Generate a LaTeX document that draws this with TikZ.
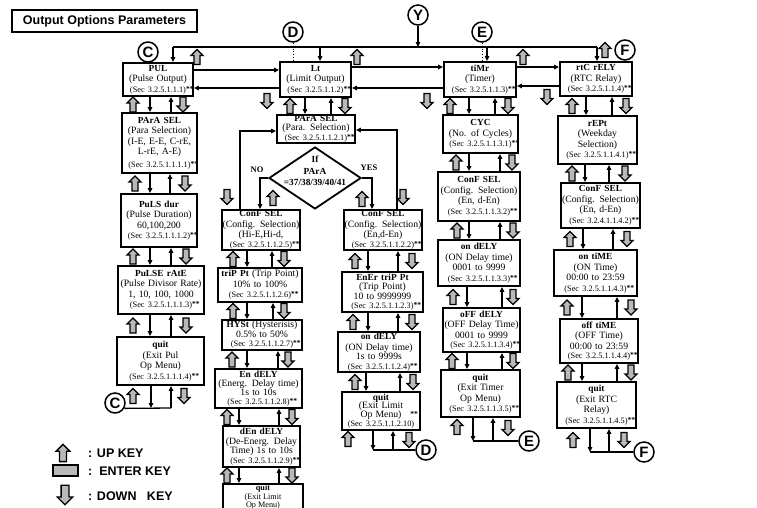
\documentclass[tikz,border=0pt]{standalone}
\usepackage{fontspec}
\setmainfont{Liberation Serif}
\setsansfont{Liberation Sans}
\usetikzlibrary{arrows.meta,shapes.geometric}
\newcommand\ttl[1]{{\bfseries\fontsize{9.3}{10}\selectfont #1}}
\newcommand\sect[1]{{\fontsize{8.3}{9}\selectfont (Sec #1)}}
\newcommand\stt{\rlap{\raisebox{1pt}{\fontsize{7.5}{7.5}\selectfont\bfseries **}}}
\newcommand\bx[6]{%
  \pgfmathsetmacro\bxcx{(#2+#4)/2}%
  \pgfmathsetmacro\bxcy{(#3+#5)/2}%
  \pgfmathsetmacro\bxw{#4-#2}%
  \pgfmathsetmacro\bxh{#5-#3}%
  \node[box, minimum width=\bxw pt, minimum height=\bxh pt] (#1) at (\bxcx,\bxcy) {};
  \node[boxtxt, text width=\bxw pt] (#1-t) at (#1.center) {#6};}
\newcommand\gp[6]{%
  \path (#1.south) -- (#2.north) coordinate[pos=0.5] (gpm);
  \pic at (gpm -| #3,0) {upkey};
  \draw[conn] (#1.south -| #4,0) -- (#2.north -| #4,0);
  \draw[conn] (#2.north -| #5,0) -- (#1.south -| #5,0);
  \pic at (gpm -| #6,0) {downkey};}
\begin{document}
\begin{tikzpicture}[x=1pt,y=-1pt,
  box/.style={draw, line width=1.8pt, fill=white, inner sep=0pt, rectangle},
  boxtxt/.style={inner sep=0pt, align=center, font=\fontsize{9.7}{10.5}\selectfont},
  conn/.style={line width=1.3pt, -{Triangle[length=5pt,width=4.5pt]}},
  plain/.style={line width=1.3pt},
  circ/.style={draw, circle, line width=1.5pt, minimum size=20pt, inner sep=0pt, font=\sffamily\bfseries\fontsize{15}{15}\selectfont},
  keyarr/.style={draw, line width=1.3pt, fill=gray!55, line join=miter},
  lbl/.style={font=\bfseries\fontsize{8.5}{9}\selectfont, inner sep=0pt},
  leg/.style={font=\sffamily\bfseries\fontsize{12.5}{13}\selectfont, anchor=west, inner sep=0pt},
  upkey/.pic={\draw[keyarr] (0,-7.5) -- (6,-1.5) -- (3,-1.5) -- (3,7.5) -- (-3,7.5) -- (-3,-1.5) -- (-6,-1.5) -- cycle;},
  downkey/.pic={\draw[keyarr] (0,7.5) -- (6,1.5) -- (3,1.5) -- (3,-7.5) -- (-3,-7.5) -- (-3,1.5) -- (-6,1.5) -- cycle;}]
\useasboundingbox (0,0) rectangle (757,507);
\clip (0,0) rectangle (757,507);
\fill[white] (0,0) rectangle (757,507);

% title
\node[draw, line width=1.2pt, minimum width=185pt, minimum height=22pt, inner sep=0pt,
  font=\sffamily\bfseries\fontsize{12.5}{13}\selectfont] (title) at (104.5,21) {Output Options Parameters};

% circles
\node[circ] (c1) at (148,52) {C};
\node[circ] (d1) at (293,32) {D};
\node[circ] (y1) at (418,15) {Y};
\node[circ] (e1) at (482,32) {E};
\node[circ] (f1) at (625,50) {F};
\node[circ] (c2) at (115,403) {C};
\node[circ] (d2) at (426,450) {D};
\node[circ] (e2) at (529,441) {E};
\node[circ] (f2) at (644,452) {F};

% PUL column
\bx{pul}{123}{63}{193}{96}{\ttl{PUL}\\(Pulse Output)\\\sect{3.2.5.1.1.1}\stt}
\bx{para1}{122}{113}{197}{173}{\ttl{PArA SEL}\\(Para Selection)\\(I-E, E-E, C-rE,\\L-rE, A-E)\\[2pt]\sect{3.2.5.1.1.1.1}\stt}
\bx{pdur}{121}{194}{197}{247}{\ttl{PuLS dur}\\(Pulse Duration)\\60,100,200\\\sect{3.2.5.1.1.1.2}\stt}
\bx{prate}{118}{266}{204}{314}{\ttl{PuLSE rAtE}\\(Pulse Divisor Rate)\\1, 10, 100, 1000\\\sect{3.2.5.1.1.1.3}\stt}
\bx{pquit}{117}{337}{204}{385}{\ttl{quit}\\(Exit Pul\\Op Menu)\\\sect{3.2.5.1.1.1.4}\stt}

% Limit column
\bx{lt}{280}{62}{351}{97}{\ttl{Lt}\\(Limit Output)\\\sect{3.2.5.1.1.2}\stt}
\bx{lpara}{277}{115}{355}{143}{\ttl{PArA SEL}\\[-1.5pt](Para. Selection)\\[-1pt]\sect{3.2.5.1.1.2.1}\stt}
\bx{lcl}{222}{210}{300}{250}{\ttl{ConF SEL}\\(Config. Selection)\\(Hi-E,Hi-d,\\[-1pt]\sect{3.2.5.1.1.2.5}\stt}
\bx{ltrip}{218}{268}{302}{302}{\ttl{triP Pt} (Trip Point)\\10\% to 100\%\\\sect{3.2.5.1.1.2.6}\stt}
\bx{lhys}{222}{320}{302}{350}{\ttl{HYSt} (Hysterisis)\\[-1pt]0.5\% to 50\%\\[-1pt]\sect{3.2.5.1.1.2.7}\stt}
\bx{lend}{215}{369}{302}{408}{\ttl{En dELY}\\[-1pt](Energ. Delay time)\\[-2pt]1s to 10s\\[-1pt]\sect{3.2.5.1.1.2.8}\stt}
\bx{ldend}{223}{426}{300}{467}{\ttl{dEn dELY}\\[-1pt](De-Energ. Delay\\[-1pt]Time) 1s to 10s\\[-1pt]\sect{3.2.5.1.1.2.9}\stt}
\node[box, minimum width=80pt, minimum height=40pt, anchor=north] (lquit1) at (263,483) {};
\node[inner sep=0pt, anchor=north, align=center, font=\fontsize{8.2}{7.4}\selectfont] (lquit1-t) at (263,485) {{\bfseries quit}\\(Exit Limit\\Op Menu)};
\bx{lcr}{344}{210}{422}{250}{\ttl{ConF SEL}\\(Config. Selection)\\(En,d-En)\\[-1pt]\sect{3.2.5.1.1.2.2}\stt}
\bx{lener}{342}{272}{423}{312}{\ttl{EnEr triP Pt}\\[-2pt](Trip Point)\\10 to 9999999\\[-2pt]\sect{3.2.5.1.1.2.3}\stt}
\bx{lon}{338}{332}{420}{372}{\ttl{on dELY}\\(ON Delay time)\\[-1pt]1s to 9999s\\[-1pt]\sect{3.2.5.1.1.2.4}\stt}
\bx{lquit2}{342}{392}{420}{430}{\ttl{quit}\\[-2pt](Exit Limit\\[-2pt]Op Menu)\rlap{\hspace{9pt}\raisebox{1pt}{\fontsize{7.5}{7.5}\selectfont\bfseries **}}\\[-1pt]\sect{3.2.5.1.1.2.10}}

% diamond
\node[draw, diamond, line width=1.8pt, minimum width=92pt, minimum height=62pt, inner sep=0pt, fill=white] (dia) at (315,178) {};
\node[align=center, inner sep=0pt, font=\bfseries\fontsize{9.3}{11.5}\selectfont] (dia-t) at (315,171) {If\\PArA\\=37/38/39/40/41};
\draw[conn] (dia.west) -| (lcl.north -| 260,0);
\draw[conn] (dia.east) -| (lcr.north -| 372,0);
\draw[conn] (lcl.north -| 240,0) |- (lpara.west |- 0,131);
\draw[conn] (lcr.north -| 397,0) |- (lpara.east |- 0,130);
\node[lbl] (no) at (257,170) {NO};
\node[lbl] (yes) at (369,168) {YES};
\pic at (227,197) {downkey};
\pic at (273,198) {upkey};
\pic at (362,199) {upkey};
\pic at (403,197) {downkey};

% Timer column
\bx{tmr}{444}{62}{516}{97}{\ttl{tiMr}\\(Timer)\\\sect{3.2.5.1.1.3}\stt}
\bx{cyc}{443}{115}{518}{153}{\ttl{CYC}\\(No. of Cycles)\\\sect{3.2.5.1.1.3.1}\stt}
\bx{tcf}{438}{172}{520}{221}{\ttl{ConF SEL}\\(Config. Selection)\\(En, d-En)\\\sect{3.2.5.1.1.3.2}\stt}
\bx{ton}{438}{240}{520}{286}{\ttl{on dELY}\\(ON Delay time)\\0001 to 9999\\\sect{3.2.5.1.1.3.3}\stt}
\bx{toff}{443}{308}{520}{352}{\ttl{oFF dELY}\\(OFF Delay Time)\\0001 to 9999\\[-1pt]\sect{3.2.5.1.1.3.4}\stt}
\bx{tquit}{441}{370}{520}{417}{\ttl{quit}\\(Exit Timer\\Op Menu)\\\sect{3.2.5.1.1.3.5}\stt}

% RTC column
\bx{rtc}{560}{62}{632}{96}{\ttl{rtC rELY}\\(RTC Relay)\\\sect{3.2.5.1.1.4}\stt}
\bx{rept}{558}{116}{637}{164}{\ttl{rEPt}\\(Weekday\\Selection)\\\sect{3.2.5.1.1.4.1}\stt}
\bx{rcf}{561}{183}{640}{228}{\ttl{ConF SEL}\\(Config. Selection)\\(En, d-En)\\\sect{3.2.4.1.1.4.2}\stt}
\bx{ron}{554}{250}{637}{296}{\ttl{on tiME}\\(ON Time)\\00:00 to 23:59\\\sect{3.2.5.1.1.4.3}\stt}
\bx{roff}{560}{319}{638}{363}{\ttl{off tiME}\\(OFF Time)\\00:00 to 23:59\\[-1pt]\sect{3.2.5.1.1.4.4}\stt}
\bx{rquit}{557}{382}{636}{428}{\ttl{quit}\\(Exit RTC\\Relay)\\\sect{3.2.5.1.1.4.5}\stt}

% gaps
\gp{pul}{para1}{133}{150}{171}{183}
\gp{para1}{pdur}{135}{150}{170}{185}
\gp{pdur}{prate}{133}{150}{171}{186}
\gp{prate}{pquit}{133}{150}{171}{186}
\gp{lt}{lpara}{290}{305}{331}{345}
\gp{lcl}{ltrip}{233}{247}{272}{284}
\gp{ltrip}{lhys}{233}{247}{273}{284}
\gp{lhys}{lend}{232}{247}{278}{288}
\gp{lend}{ldend}{227}{239}{279}{292}
\gp{ldend}{lquit1}{227}{239}{279}{292}
\gp{lcr}{lener}{355}{368}{398}{412}
\gp{lener}{lon}{353}{368}{398}{412}
\gp{lon}{lquit2}{355}{366}{400}{413}
\gp{tmr}{cyc}{450}{469}{495}{508}
\gp{cyc}{tcf}{456}{469}{500}{512}
\gp{tcf}{ton}{457}{469}{500}{513}
\gp{ton}{toff}{453}{467}{502}{513}
\gp{toff}{tquit}{452}{467}{502}{513}
\gp{rtc}{rept}{572}{586}{612}{626}
\gp{rept}{rcf}{572}{585}{609}{625}
\gp{rcf}{ron}{570}{583}{613}{627}
\gp{ron}{roff}{567}{582}{617}{631}
\gp{roff}{rquit}{568}{582}{617}{631}

% top bus
\coordinate (t1) at (173,47);
\coordinate (t2) at (320,47);
\coordinate (t3) at (487,47);
\coordinate (t4) at (597,47);
\coordinate (ty) at (418,47);
\draw[plain] (t1) -- (t4);
\draw[conn] (t1) -- (t1 |- pul.north);
\draw[conn] (t2) -- (t2 |- lt.north);
\draw[conn] (t3) -- (t3 |- tmr.north);
\draw[conn] (t4) -- (t4 |- rtc.north);
\draw[conn] (y1) -- (ty);
\draw[line width=0.9pt, dotted] (d1) -- (d1 |- lt.north);
\draw[line width=0.9pt, dotted] (e1) -- (e1 |- tmr.north);

% side links
\draw[conn] (pul.east |- 0,70) -- (lt.west |- 0,70);
\draw[conn] (lt.west |- 0,88) -- (pul.east |- 0,88);
\draw[conn] (lt.east |- 0,67) -- (tmr.west |- 0,67);
\draw[conn] (tmr.west |- 0,88) -- (lt.east |- 0,88);
\draw[conn] (tmr.east |- 0,67) -- (rtc.west |- 0,67);
\draw[conn] (rtc.west |- 0,86) -- (tmr.east |- 0,86);

% top keys
\pic at (197,57) {upkey};
\pic at (357,57) {upkey};
\pic at (523,57) {upkey};
\pic at (605,50) {upkey};
\pic at (267,101) {downkey};
\pic at (427,101) {downkey};
\pic at (547,97) {downkey};

% bottom loops
\coordinate (cb1) at (151,408);
\coordinate (cb2) at (171,408);
\draw[conn] (pquit.south -| cb1) -- (cb1);
\draw[conn] (cb2) -- (pquit.south -| cb2);
\draw[plain] (c2.-30) -- (cb2);
\pic at (133,396) {upkey};
\pic at (184,396) {downkey};

\coordinate (db1) at (373,450);
\coordinate (db2) at (393,450);
\draw[conn] (lquit2.south -| db1) -- (db1);
\draw[conn] (db2) -- (lquit2.south -| db2);
\draw[plain] (db1) -- (d2.west);
\pic at (348,439) {upkey};
\pic at (409,440) {downkey};

\coordinate (eb1) at (473,441);
\coordinate (eb2) at (493,441);
\draw[conn] (tquit.south -| eb1) -- (eb1);
\draw[conn] (eb2) -- (tquit.south -| eb2);
\draw[plain] (eb1) -- (e2.west);
\pic at (457,427) {upkey};
\pic at (508,428) {downkey};

\coordinate (fb1) at (590,452);
\coordinate (fb2) at (609,452);
\draw[conn] (rquit.south -| fb1) -- (fb1);
\draw[conn] (fb2) -- (rquit.south -| fb2);
\draw[plain] (fb1) -- (f2.west);
\pic at (573,440) {upkey};
\pic at (624,440) {downkey};

% legend
\pic[scale=1.15] at (63,453) {upkey};
\node[draw, line width=1.3pt, fill=gray!55, minimum width=25pt, minimum height=11pt, inner sep=0pt] (enter) at (65.5,470.5) {};
\pic[scale=1.3] at (65,495) {downkey};
\node[leg] (lg1) at (88,453) {: UP KEY};
\node[leg] (lg2) at (88,471) {:\ \ ENTER KEY};
\node[leg] (lg3) at (88,496) {: DOWN\ \ \ KEY};
\end{tikzpicture}
\end{document}
